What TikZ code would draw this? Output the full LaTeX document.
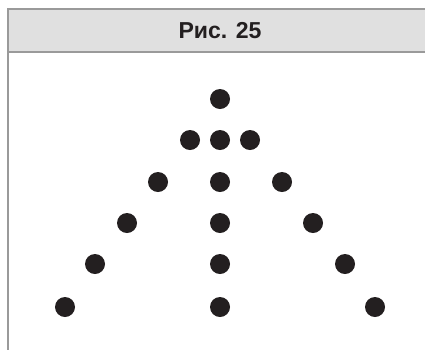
\documentclass[tikz,border=0pt]{standalone}
\usepackage{fontspec}
\newfontfamily\figfont{Liberation Sans}
\usetikzlibrary{positioning}
\usepackage{xcolor}
\definecolor{frame}{HTML}{9A9A9A}
\definecolor{band}{HTML}{E0E0E0}
\definecolor{ink}{HTML}{231F20}

\begin{document}
\begin{tikzpicture}[
        x=0.025cm, y=-0.025cm,
        rule/.style={draw=frame, line width=1.3pt},
        title/.style={font=\figfont\bfseries\fontsize{16.4}{18}\selectfont,
                      text=ink, inner sep=0pt},
        dot/.style={circle, fill=ink, inner sep=0pt, minimum size=0.5cm},
      ]
        \useasboundingbox (0,0) rectangle (425,350);
        % header band
        \shade[top color=band, middle color=white, bottom color=band] (8,9) rectangle (425,52);
        \draw[rule] (425,9) -- (8,9) -- (8,350);
        \draw[rule] (8,52) -- (425,52);
        \node[title] (fig) at (220,31) {Рис. 25};
        % dots
        \node[dot] (top) at (220,99) {};
        \foreach \i/\y/\dx in {1/140/30, 2/182/62, 3/223/93, 4/264/125, 5/307/155} {
          \node[dot] (l\i) at (220-\dx,\y) {};
          \node[dot] (c\i) at (220,\y) {};
          \node[dot] (r\i) at (220+\dx,\y) {};
        }
      \end{tikzpicture}
\end{document}
